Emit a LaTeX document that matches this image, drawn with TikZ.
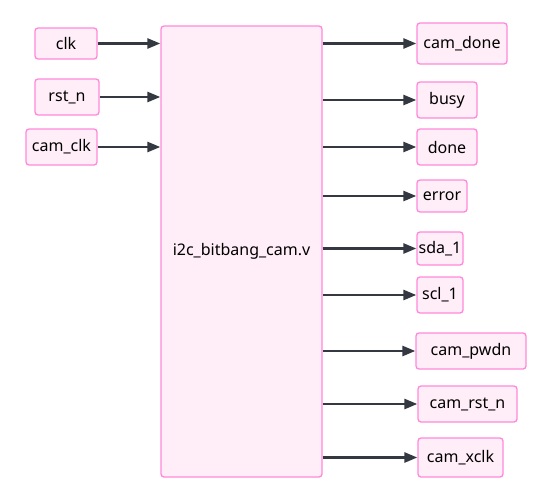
\documentclass[tikz,border=0pt]{standalone}
\usepackage{fontspec}
\setmainfont{Noto Sans}
\usetikzlibrary{arrows.meta}
\definecolor{portline}{HTML}{FF88DA}
\definecolor{portfill}{HTML}{FFEEF8}
\definecolor{wire}{HTML}{333841}
\tikzset{every path/.style={line width=1pt}}
\tikzset{
  port/.style={draw=portline,fill=portfill,rounded corners=3pt,line width=1.3pt,
    inner sep=0pt,font=\fontsize{16}{19}\selectfont},
  sig/.style={draw=wire,line width=2.6pt,-{Triangle[length=13pt,width=10pt]}}
}

\begin{document}
\begin{tikzpicture}[x=1pt,y=-1pt]
\useasboundingbox (0,0) rectangle (552,501);
% module
\node[port,minimum width=161,minimum height=451] (cam) at (241.5,251.5) {i2c\_bitbang\_cam.v};
% inputs
\node[port,minimum width=62,minimum height=31] (clk) at (66,43.5) {clk};
\node[port,minimum width=64,minimum height=36] (rstn) at (67,97) {rst\_n};
\node[port,minimum width=71,minimum height=36] (camclk) at (61.5,147) {cam\_clk};
% outputs
\node[port,minimum width=90,minimum height=41] (camdone) at (462,43.5) {cam\_done};
\node[port,minimum width=60,minimum height=36] (busy) at (447,100) {busy};
\node[port,minimum width=60,minimum height=36] (done) at (447,147) {done};
\node[port,minimum width=50,minimum height=32] (error) at (442,196) {error};
\node[port,minimum width=46,minimum height=33] (sda) at (440,248.5) {sda\_1};
\node[port,minimum width=46,minimum height=36] (scl) at (440,295) {scl\_1};
\node[port,minimum width=110,minimum height=36] (pwdn) at (471,351) {cam\_pwdn};
\node[port,minimum width=99,minimum height=36] (camrst) at (467.5,404) {cam\_rst\_n};
\node[port,minimum width=85,minimum height=39] (xclk) at (460.5,457.5) {cam\_xclk};
% wires in
\foreach \p in {clk,rstn,camclk}
  \draw[sig] (\p.east) -- (cam.west |- \p.east);
% wires out
\foreach \p in {camdone,busy,done,error,sda,scl,pwdn,camrst,xclk}
  \draw[sig] (cam.east |- \p.west) -- (\p.west);
\end{tikzpicture}
\end{document}
